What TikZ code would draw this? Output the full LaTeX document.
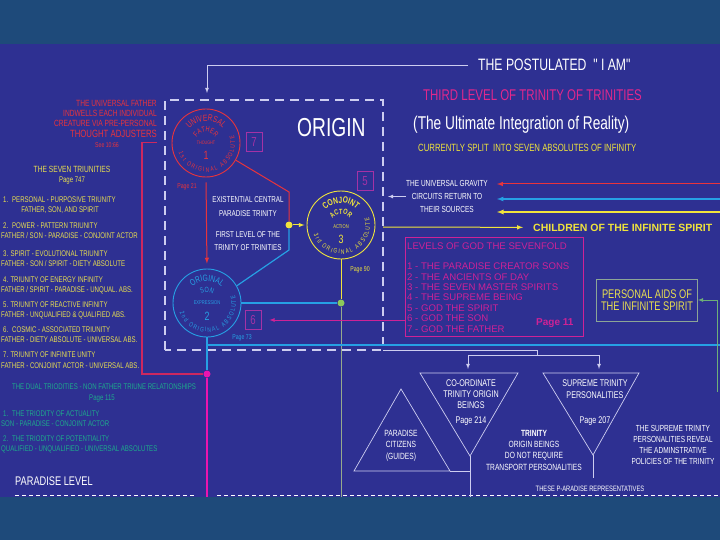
\documentclass[tikz,border=0pt]{standalone}
\usepackage{fontspec}
\setmainfont{Liberation Sans}
\newfontfamily\nar[FakeStretch=0.74]{Liberation Sans}
\usetikzlibrary{positioning, arrows, decorations.text}

\definecolor{deepbg}{RGB}{30,74,122}
\definecolor{panel}{RGB}{46,48,146}
\definecolor{fred}{RGB}{232,52,60}
\definecolor{sblue}{RGB}{38,160,228}
\definecolor{ayellow}{RGB}{240,228,60}
\definecolor{ltext}{RGB}{232,222,80}
\definecolor{gmag}{RGB}{206,34,150}
\definecolor{boxpurple}{RGB}{165,50,165}
\definecolor{crimson}{RGB}{205,40,95}
\definecolor{tgreen}{RGB}{30,170,140}
\definecolor{lav}{RGB}{205,205,240}
\definecolor{aidgray}{RGB}{140,165,150}
\definecolor{pinktxt}{RGB}{225,40,140}
\definecolor{pgreen}{RGB}{140,200,90}
\definecolor{grayline}{RGB}{150,170,140}
\definecolor{aidgreen}{RGB}{110,175,120}
\definecolor{tadotc}{RGB}{235,20,175}

\newcommand{\fsz}[2]{\fontsize{#1}{#2}\selectfont}
\newcommand{\sealbig}{\nar\fsz{9}{9}}
\newcommand{\sealmid}{\nar\fsz{7.5}{7.5}}
\newcommand{\sealsmall}{\nar\fsz{6.5}{6.5}}
% text round a seal: alignment, node, radius, start angle, end angle, text
\newcommand{\arctext}[6]{%
  \path[decorate, decoration={text along path, text align={#1}, text={#6}}]
    ([shift={(#4:#3)}]#2.center) arc[start angle=#4, end angle=#5, radius=#3];}

\tikzset{
every node/.style={inner sep=0pt, text=white, font=\nar}, % plain white text
seal/.style={circle, draw, line width=0.9pt, minimum size=68pt},
numbox/.style={draw=boxpurple, text=boxpurple, line width=0.8pt, minimum width=16pt, minimum height=19pt, font=\nar\fsz{13}{13}},
trio/.style={anchor=base west, text=ltext, font=\nar\fsz{8.2}{8.2}},
duo/.style={anchor=base west, text=tgreen, font=\nar\fsz{8.2}{8.2}},
lev/.style={anchor=base west, text=gmag, font=\normalfont\fsz{9.6}{10.35}, align=left},
dotnode/.style={circle, minimum size=7pt},
wline/.style={draw=lav, line width=0.8pt},
fline/.style={draw=fred, line width=1pt},
sline/.style={draw=sblue, line width=1.2pt},
yline/.style={draw=ayellow, line width=1pt},
magline/.style={draw=gmag, line width=0.8pt},
dashbox/.style={draw=lav, line width=1.3pt, dash pattern=on 9pt off 6pt},
paradash/.style={draw=white, line width=0.8pt, dash pattern=on 4pt off 3pt},
tri/.style={draw=lav, line width=0.7pt},
}

\begin{document}
\begin{tikzpicture}[x=1pt, y=-1pt]
\fill[deepbg] (0,0) rectangle (720,540);
\fill[panel] (0,44) rectangle (720,497);
\useasboundingbox (0,0) rectangle (720,540);

% heading
\node[anchor=base west, font=\nar\fsz{16.5}{16.5}] (iam) at (478,71) {THE POSTULATED \ " I AM"};
\node[anchor=base west, text=pinktxt, font=\nar\fsz{15.5}{15.5}] (third) at (423,101) {THIRD LEVEL OF TRINITY OF TRINITIES};
\node[anchor=base west, font=\nar\fsz{18.5}{18.5}] (ultimate) at (413,130) {(The Ultimate Integration of Reality)};
\node[anchor=base west, text=ayellow, font=\nar\fsz{10.5}{10.5}] (split) at (418,152) {CURRENTLY SPLIT \ INTO SEVEN ABSOLUTES OF INFINITY};
\node[anchor=base west, font=\nar\fsz{26}{26}] (origin) at (297,137) {ORIGIN};

\coordinate (iamtip) at (207,93);
\draw[wline, -latex, shorten <=10pt] (iam.west) -| (iamtip);

% origin box
\draw[dashbox] (165,350) -- (165,100) -- (383,100) -- (383,350) -- cycle;

% left column
\node[anchor=base east, text=fred, font=\nar\fsz{9}{9}] (uf1) at (157,107) {THE UNIVERSAL FATHER};
\node[anchor=base east, text=fred, font=\nar\fsz{9}{9}] (uf2) at (157,117) {INDWELLS EACH INDIVIDUAL};
\node[anchor=base east, text=fred, font=\nar\fsz{9}{9}] (uf3) at (157,127) {CREATURE VIA PRE-PERSONAL};
\node[anchor=base east, text=fred, font=\nar\fsz{10.5}{10.5}] (adjusters) at (157,138) {THOUGHT ADJUSTERS};
\node[anchor=base, text=fred, font=\nar\fsz{7}{7}] (seeref) at (107,148) {See 10:66};

\node[trio, anchor=base, font=\nar\fsz{9}{9}] (seven) at (72,173) {THE SEVEN TRIUNITIES};
\node[trio, anchor=base] (sevenpg) at (72,183) {Page 747};
\node[trio] (t1a) at (3,203) {1. \ PERSONAL - PURPOSIVE TRIUNITY};
\node[trio, anchor=base] (t1b) at (60,213) {FATHER, SON, AND SPIRIT};
\node[trio] (t2a) at (3,229) {2. \ POWER - PATTERN TRIUNITY};
\node[trio] (t2b) at (1,239) {FATHER / SON - PARADISE - CONJOINT ACTOR};
\node[trio] (t3a) at (3,256) {3. SPIRIT - EVOLUTIONAL TRIUNITY};
\node[trio] (t3b) at (1,266) {FATHER - SON / SPIRIT - DIETY ABSOLUTE};
\node[trio] (t4a) at (3,282) {4. TRIUNITY OF ENERGY INFINITY};
\node[trio] (t4b) at (1,292) {FATHER / SPIRIT - PARADISE - UNQUAL. ABS.};
\node[trio] (t5a) at (3,307) {5. TRIUNITY OF REACTIVE INFINITY};
\node[trio] (t5b) at (1,317) {FATHER - UNQUALIFIED \& QUALIFIED ABS.};
\node[trio] (t6a) at (3,332) {6. \ COSMIC - ASSOCIATED TRIUNITY};
\node[trio] (t6b) at (1,342) {FATHER - DIETY ABSOLUTE - UNIVERSAL ABS.};
\node[trio] (t7a) at (3,357) {7. TRIUNITY OF INFINITE UNITY};
\node[trio] (t7b) at (1,368) {FATHER - CONJOINT ACTOR - UNIVERSAL ABS.};

\node[duo, anchor=base] (dual) at (104,389) {THE DUAL TRIODITIES - NON FATHER TRIUNE RELATIONSHIPS};
\node[duo, anchor=base] (dualpg) at (102,400) {Page 115};
\node[duo] (d1a) at (3,416) {1. \ THE TRIODITY OF ACTUALITY};
\node[duo] (d1b) at (1,426) {SON - PARADISE - CONJOINT ACTOR};
\node[duo] (d2a) at (3,441) {2. \ THE TRIODITY OF POTENTIALITY};
\node[duo] (d2b) at (1,451) {QUALIFIED - UNQUALIFIED - UNIVERSAL ABSOLUTES};

\node[anchor=base west, font=\nar\fsz{12.5}{12.5}] (paradise) at (15,485) {PARADISE LEVEL};
\draw[paradash] (15,495) -- (194,495);
\draw[paradash] (217,495) -- (720,495);

% the three seals
\node[seal, draw=fred] (father) at (206,143) {};
\node[seal, draw=sblue] (son) at (207,303) {};
\node[seal, draw=ayellow] (actor) at (341,225) {};

\arctext{center}{father}{22}{-170}{-10}{|\sealbig\color{fred}|UNIVERSAL}
\arctext{center}{father}{11}{-175}{-5}{|\sealmid\color{fred}|FATHER}
\arctext{fit to path}{father}{29}{-200}{-375}{|\sealsmall\color{fred}|1st ORIGINAL ABSOLUTE}
\node[text=fred, font=\nar\fsz{5}{5}] (fword) at (206,143) {THOUGHT};
\node[text=fred, font=\nar\fsz{12}{12}] (fnum) at (206,155) {1};

\arctext{center}{son}{22}{-170}{-10}{|\sealbig\color{sblue}|ORIGINAL}
\arctext{center}{son}{11}{-175}{-5}{|\sealmid\color{sblue}|SON}
\arctext{fit to path}{son}{29}{-200}{-375}{|\sealsmall\color{sblue}|2nd ORIGINAL ABSOLUTE}
\node[text=sblue, font=\nar\fsz{5.5}{5.5}] (sword) at (207,303) {EXPRESSION};
\node[text=sblue, font=\nar\fsz{12}{12}] (snum) at (207,316) {2};

\arctext{center}{actor}{22}{-170}{-10}{|\sealbig\bfseries\color{ayellow}|CONJOINT}
\arctext{center}{actor}{11}{-175}{-5}{|\sealmid\bfseries\color{ayellow}|ACTOR}
\arctext{fit to path}{actor}{29}{-200}{-375}{|\sealsmall\color{ayellow}|3rd ORIGINAL ABSOLUTE}
\node[text=ayellow, font=\nar\fsz{5.5}{5.5}] (aword) at (341,227) {ACTION};
\node[text=ayellow, font=\nar\fsz{12}{12}] (anum) at (341,239) {3};

\node[text=fred, font=\nar\fsz{7}{7}] (pg21) at (187,187) {Page 21};
\node[text=sblue, font=\nar\fsz{7}{7}] (pg73) at (242,338) {Page 73};
\node[text=ayellow, font=\nar\fsz{7}{7}] (pg90) at (360,270) {Page 90};

\node[numbox] (boxseven) at (254,142) {7};
\node[numbox] (boxfive) at (365,181) {5};
\node[numbox] (boxsix) at (253,320) {6};

\node[anchor=north, align=center, font=\nar\fsz{8.5}{14}] (existential) at (248,196) {EXISTENTIAL CENTRAL\\PARADISE TRINITY};
\node[anchor=north, align=center, font=\nar\fsz{8.5}{13}] (firstlevel) at (248,231) {FIRST LEVEL OF THE\\TRINITY OF TRINITIES};

% joints
\node[dotnode, fill=ayellow] (ydot) at (289,225) {};
\node[dotnode, fill=pgreen] (gdot) at (341,303) {};
\node[dotnode, fill=tadotc] (tadot) at (207,374) {};

\coordinate (fbend) at (289,192);
\coordinate (sbend) at (289,250);
\coordinate (actfoot) at (341,497);
\coordinate (blueedge) at (720,345);
\coordinate (tacorner) at (142,374);
\coordinate (tafoot) at (207,497);

\draw[fline] (father.-30) -- (fbend) -- (ydot);
\draw[sline] (ydot) -- (sbend) -- (son.30);
\draw[yline, -latex, shorten >=2pt] (ydot) -- (actor.west);
\draw[fline, -latex, shorten <=5pt, shorten >=5pt] (father.south) -- (son.north);
\draw[yline] (actor.south) -- (gdot);
\draw[draw=grayline, line width=1pt] (gdot) -- (actfoot);
\draw[sline] (son.east) -- (gdot);
\draw[sline] (son.south) -- (tadot);
\draw[sline] (son.south |- blueedge) -- (blueedge);
\draw[draw=crimson, line width=1.2pt] ([yshift=-4pt]adjusters.south east) -| (tacorner) -- (tadot);
\draw[draw=tadotc, line width=1.2pt] (tadot) -- (tafoot);

% gravity circuits
\node[anchor=north, align=center, font=\nar\fsz{8.8}{13.2}] (gravity) at (447,180) {THE UNIVERSAL GRAVITY\\CIRCUITS RETURN TO\\THEIR SOURCES};
\draw[wline, -latex] (gravity.west) -- ++(-18,0);
\coordinate (gr1) at (497,184);
\coordinate (gr2) at (497,199);
\coordinate (gr3) at (497,212);
\coordinate (ge1) at (720,184);
\coordinate (ge2) at (720,199);
\coordinate (ge3) at (720,212);
\draw[fline, -latex] (ge1) -- (gr1);
\draw[sline, -latex] (ge2) -- (gr2);
\draw[yline, line width=1.3pt, -latex] (ge3) -- (gr3);

\node[anchor=base west, text=ayellow, font=\normalfont\bfseries\fsz{10.5}{10.5}] (children) at (533,231) {CHILDREN OF THE INFINITE SPIRIT};
\coordinate (childstart) at (383,227);
\draw[yline, -latex, shorten >=10pt] (childstart) -- (children.west);

% sevenfold
\node[draw=gmag, line width=0.8pt, minimum width=178pt, minimum height=99pt] (levels) at (494,287) {};
\node[lev] (levtitle) at (407,249) {LEVELS OF GOD THE SEVENFOLD};
\node[lev, anchor=north west] (levlist) at (407,263) {1 - THE PARADISE CREATOR SONS\\2 - THE ANCIENTS OF DAY\\3 - THE SEVEN MASTER SPIRITS\\4 - THE SUPREME BEING\\5 - GOD THE SPIRIT\\6 - GOD THE SON\\7 - GOD THE FATHER};
\node[lev, font=\normalfont\bfseries\fsz{10}{10}] (pg11) at (536,325) {Page 11};
\draw[magline, -latex, shorten >=8pt] (levels.west |- boxsix) -- (boxsix.east);

\node[draw=aidgray, line width=0.8pt, minimum width=101pt, minimum height=42pt, align=center, text=ltext, font=\nar\fsz{12.5}{12}] (aids) at (647,300) {PERSONAL AIDS OF\\THE INFINITE SPIRIT};
\coordinate (aidfoot) at (717,392);
\draw[draw=aidgreen, line width=0.8pt, -latex] (aidfoot) |- (aids.east);

% trinity origin beings
\coordinate (boxcorner) at (383,350);
\coordinate (fork) at (537,355);
\coordinate (coordin) at (468,369);
\coordinate (supin) at (599,369);
\coordinate (coordtl) at (420,373);
\coordinate (coordtr) at (518,373);
\coordinate (coordapex) at (470,456);
\coordinate (coordfoot) at (470,497);
\coordinate (suptl) at (543,373);
\coordinate (suptr) at (639,373);
\coordinate (supapex) at (593,455);
\coordinate (supfoot) at (593,478);
\coordinate (citapex) at (401,389);
\coordinate (citbl) at (354,471);
\coordinate (citbr) at (450,471);
\coordinate (citjoin) at (470,471);

\draw[tri] (coordtl) -- (coordtr) -- (coordapex) -- cycle;
\draw[tri] (suptl) -- (suptr) -- (supapex) -- cycle;
\draw[tri] (citapex) -- (citbr) -- (citbl) -- cycle;
\draw[wline] (boxcorner) -| (fork);
\draw[wline, -latex] (fork) -| (coordin);
\draw[wline, -latex] (fork) -| (supin);
\draw[wline] (coordapex) -- (coordfoot);
\draw[wline] (citbr) -- (citjoin);
\draw[wline] (supapex) -- (supfoot);

\node[anchor=north, align=center, font=\nar\fsz{9.7}{11}] (coordtext) at (471,380) {CO-ORDINATE\\TRINITY ORIGIN\\BEINGS};
\node[anchor=base, font=\nar\fsz{9.7}{9.7}] (pg214) at (471,423) {Page 214};
\node[anchor=north, align=center, font=\nar\fsz{9.7}{12}] (suptext) at (595,380) {SUPREME TRINITY\\PERSONALITIES};
\node[anchor=base, font=\nar\fsz{9.7}{9.7}] (pg207) at (595,423) {Page 207};
\node[anchor=north, align=center, font=\nar\fsz{9}{11.5}] (citizens) at (401,430) {PARADISE\\CITIZENS\\(GUIDES)};
\node[anchor=north, align=center, font=\nar\fsz{9}{11.3}] (notransport) at (534,430) {{\bfseries TRINITY}\\ORIGIN BEINGS\\DO NOT REQUIRE\\TRANSPORT PERSONALITIES};
\node[anchor=north, align=center, font=\nar\fsz{8.8}{11}] (reveal) at (673,425) {THE SUPREME TRINITY\\PERSONALITIES REVEAL\\THE ADMINSTRATIVE\\POLICIES OF THE TRINITY};
\node[anchor=base, font=\nar\fsz{7.8}{7.8}] (representatives) at (590,491) {THESE P-ARADISE REPRESENTATIVES};
\end{tikzpicture}
\end{document}
